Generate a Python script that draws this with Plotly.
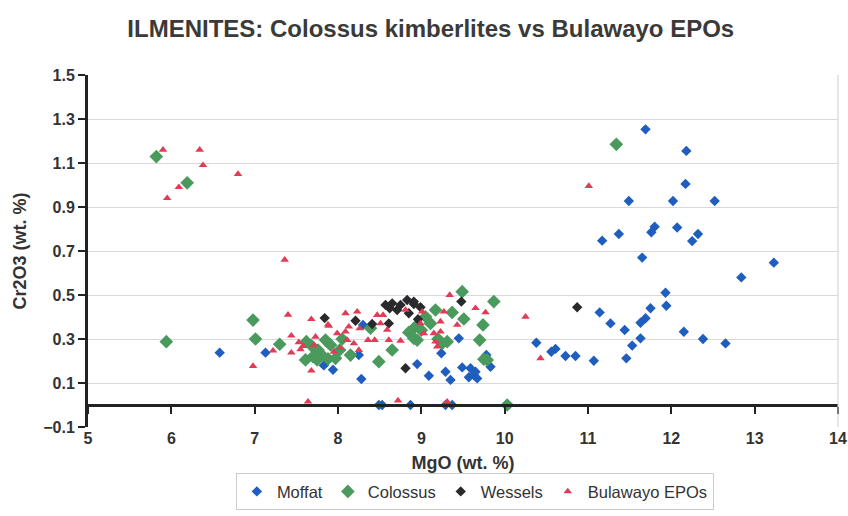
import plotly.graph_objects as go

# MgO (x) and Cr2O3 (y) in wt. %
moffat_mgo = [6.58, 7.13, 7.83, 7.94, 8.25, 8.30, 8.28, 8.95, 9.09, 9.24, 9.29, 9.35,
              9.45, 9.49, 9.59, 9.57, 9.63, 9.67, 9.65, 9.78, 9.83,
              8.49, 8.53, 8.87, 9.29, 9.37,
              10.38, 10.56, 10.61, 10.73, 10.85, 11.07,
              11.69, 12.18, 12.17, 11.49, 12.02, 12.52, 11.80, 11.76, 12.07, 11.37,
              11.17, 12.32, 12.25, 11.65, 13.23, 12.84, 11.93, 11.94, 11.75, 11.14,
              11.27, 11.44, 11.69, 11.63, 11.63, 11.53, 11.46, 12.15, 12.38, 12.65]
moffat_cr = [0.238, 0.238, 0.18, 0.16, 0.227, 0.364, 0.118, 0.186, 0.133, 0.235, 0.151, 0.114,
             0.303, 0.171, 0.167, 0.126, 0.136, 0.121, 0.151, 0.227, 0.174,
             0.0, 0.0, 0.0, 0.0, 0.0,
             0.283, 0.242, 0.255, 0.223, 0.223, 0.201,
             1.253, 1.155, 1.005, 0.927, 0.927, 0.927, 0.81, 0.785, 0.807, 0.777,
             0.747, 0.777, 0.745, 0.67, 0.647, 0.58, 0.51, 0.451, 0.44, 0.421,
             0.371, 0.341, 0.394, 0.374, 0.303, 0.27, 0.212, 0.333, 0.30, 0.28]

colossus_mgo = [5.82, 6.19, 5.94, 6.98, 7.01, 7.30, 7.62, 7.61, 7.75, 7.76, 7.85, 7.91,
                7.97, 8.15, 8.49, 8.65, 8.39, 8.91, 8.93, 8.95, 9.05, 9.11, 9.17, 9.25,
                9.31, 9.37, 9.49, 9.51, 9.70, 9.74, 9.75, 9.87, 10.03, 11.34,
                7.68, 7.80, 7.88, 8.02, 8.05, 7.70, 8.85, 9.00, 9.20, 9.79]
colossus_cr = [1.129, 1.01, 0.288, 0.386, 0.30, 0.276, 0.288, 0.205, 0.205, 0.25, 0.295, 0.273,
               0.212, 0.227, 0.197, 0.25, 0.349, 0.303, 0.356, 0.295, 0.401, 0.371, 0.432, 0.28,
               0.288, 0.421, 0.515, 0.391, 0.295, 0.364, 0.208, 0.47, 0.0, 1.185,
               0.27, 0.23, 0.21, 0.25, 0.30, 0.22, 0.33, 0.34, 0.30, 0.205]

wessels_mgo = [7.84, 8.21, 8.41, 8.57, 8.65, 8.75, 8.83, 8.91, 8.61, 8.81, 8.91, 8.99,
               8.96, 9.48, 10.87, 8.71, 8.85, 8.62]
wessels_cr = [0.395, 0.383, 0.368, 0.455, 0.462, 0.455, 0.477, 0.459, 0.371, 0.167, 0.47, 0.444,
              0.39, 0.47, 0.444, 0.432, 0.417, 0.44]

bulawayo_mgo = [5.90, 6.34, 6.38, 6.80, 6.09, 5.95, 7.36, 11.01,
                7.40, 7.68, 7.88, 7.22, 7.44, 7.44, 6.98, 7.68, 7.64,
                7.53, 7.55, 7.58, 7.73, 7.71, 7.89,
                8.23, 8.13, 8.09, 8.26, 8.47, 8.54, 8.81, 8.51, 8.59, 8.36, 8.44, 8.61,
                8.75, 7.99, 8.11, 8.19, 8.03, 8.25, 7.95, 8.09,
                8.72, 9.31,
                9.34, 9.65, 9.77, 9.43, 9.27, 9.23, 9.01, 8.99, 9.23, 9.15, 9.03, 9.17, 9.19,
                10.25, 10.43]
bulawayo_cr = [1.16, 1.16, 1.09, 1.05, 0.99, 0.94, 0.66, 0.995,
               0.41, 0.39, 0.365, 0.247, 0.315, 0.238, 0.177, 0.156, 0.015,
               0.285, 0.253, 0.268, 0.31, 0.273, 0.36,
               0.424, 0.356, 0.333, 0.348, 0.409, 0.409, 0.432, 0.371, 0.341, 0.295, 0.295, 0.295,
               0.292, 0.326, 0.295, 0.28, 0.258, 0.25, 0.242, 0.417,
               0.02, 0.015,
               0.50, 0.44, 0.421, 0.364, 0.424, 0.379, 0.424, 0.371, 0.333, 0.326, 0.326, 0.288, 0.265,
               0.401, 0.212]

x_ticks = list(range(5, 15))

font_family = "Liberation Sans, Arial, sans-serif"
tick_font = dict(size=16, color="#333333", family=font_family, weight="bold")

fig = go.Figure()
fig.add_trace(go.Scatter(x=moffat_mgo, y=moffat_cr, mode="markers", name="Moffat",
                         marker=dict(symbol="diamond", size=8, color="#1f5dbe")))
fig.add_trace(go.Scatter(x=colossus_mgo, y=colossus_cr, mode="markers", name="Colossus",
                         marker=dict(symbol="diamond", size=10.5, color="#4a9a5e")))
fig.add_trace(go.Scatter(x=wessels_mgo, y=wessels_cr, mode="markers", name="Wessels",
                         marker=dict(symbol="diamond", size=8, color="#2a2a2c")))
fig.add_trace(go.Scatter(x=bulawayo_mgo, y=bulawayo_cr, mode="markers", name="Bulawayo EPOs",
                         marker=dict(symbol="triangle-up", size=7.5, color="#e23b55")))
# empty trace so the axis line drawn at y=0 gets its own subplot
fig.add_trace(go.Scatter(x=[], y=[], xaxis="x2", showlegend=False, hoverinfo="skip"))

fig.update_layout(
    width=848, height=516,
    margin=dict(l=88, r=10, t=75, b=89),
    paper_bgcolor="white", plot_bgcolor="white",
    font=dict(family=font_family, color="#333333"),
    title=dict(text="<b>ILMENITES: Colossus kimberlites vs Bulawayo EPOs</b>",
               x=0.508, xanchor="center", y=0.945, yanchor="middle",
               font=dict(size=24, color="#3a3a3a")),
    xaxis=dict(range=[5, 14], tickvals=x_ticks, showgrid=False, zeroline=False,
               showline=False, ticks="", tickfont=tick_font, automargin=False,
               title=dict(text="<b>MgO (wt. %)</b>", font=dict(size=18), standoff=10)),
    xaxis2=dict(range=[5, 14], overlaying="x", anchor="free", position=0.0625,
                tickvals=x_ticks, showticklabels=False, showgrid=False, zeroline=False,
                showline=True, linewidth=3, linecolor="#222222", automargin=False,
                ticks="outside", ticklen=7, tickwidth=2, tickcolor="#222222"),
    yaxis=dict(range=[-0.1, 1.5], tick0=-0.1, dtick=0.2, tickformat=".1f",
               showgrid=True, gridcolor="#d9d9d9", gridwidth=1, zeroline=False,
               showline=True, linewidth=3, linecolor="#222222", automargin=False,
               ticks="outside", ticklen=7, tickwidth=2, tickcolor="#222222",
               tickfont=tick_font,
               title=dict(text="<b>Cr2O3 (wt. %)</b>", font=dict(size=18), standoff=12)),
    legend=dict(orientation="h", x=0.56, xref="container", xanchor="center",
                y=0.083, yref="container", yanchor="top",
                bordercolor="#cccccc", borderwidth=1, font=dict(size=16.5, color="#333333"),
                itemwidth=30, tracegroupgap=0),
    showlegend=True,
)
# light frame on the right edge of the plot area
fig.add_shape(type="line", xref="paper", yref="paper", x0=1, x1=1, y0=0, y1=1,
              line=dict(color="#cfcfcf", width=1))

fig.write_html("out.html", config={"displayModeBar": False},
               post_script="document.body.style.margin='0';")
